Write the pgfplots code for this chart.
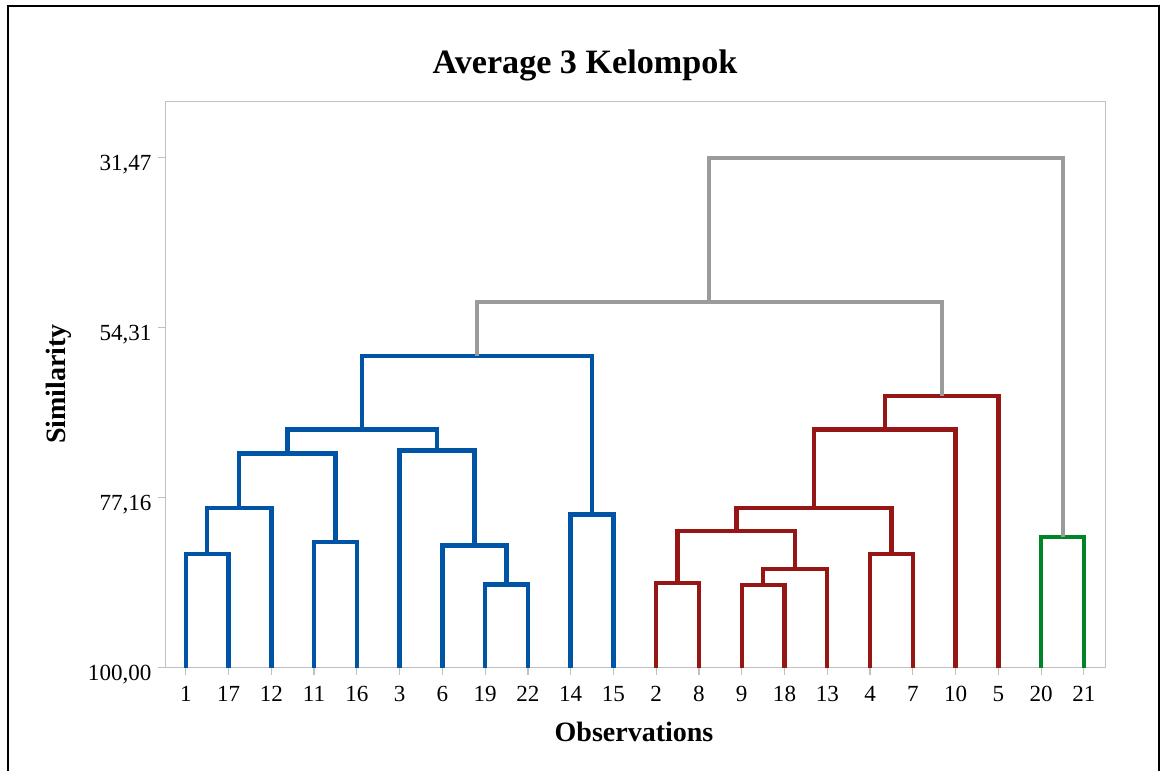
\documentclass[border=0pt]{standalone}
\usepackage{pgfplots}
\pgfplotsset{compat=1.18}
\usepackage{fontspec}
\setmainfont{Liberation Serif}
\definecolor{dblue}{RGB}{0,84,166}
\definecolor{dred}{RGB}{150,22,22}
\definecolor{dgreen}{RGB}{0,133,38}
\definecolor{dgray}{RGB}{155,155,155}
\definecolor{framegray}{RGB}{192,192,192}
\begin{document}
\begin{tikzpicture}
\path[use as bounding box] (0,0) rectangle (870.75pt,-578.25pt);
\draw[black, line width=1.5pt] (6pt,-578.25pt) -- (6pt,-4.5pt) -- (869.25pt,-4.5pt) -- (869.25pt,-578.25pt);
\begin{axis}[
  at={(124.275pt,-76.275pt)}, anchor=north west,
  scale only axis, width=705pt, height=424.5pt,
  xmin=0.53, xmax=22.51, ymin=23.945, ymax=100,
  y dir=reverse,
  axis line style={framegray, line width=0.9pt},
  tick style={framegray, line width=0.9pt},
  tick align=outside, major tick length=5.5pt,
  xtick pos=bottom, ytick pos=left,
  xtick={1,...,22},
  xticklabels={1,17,12,11,16,3,6,19,22,14,15,2,8,9,18,13,4,7,10,5,20,21},
  ytick={31.47,54.3133,77.1567,100},
  yticklabels={{31,47},{54,31},{77,16},{100,00}},
  ticklabel style={font=\fontsize{17.3}{20}\selectfont, text=black},
  xticklabel style={anchor=base, inner sep=0pt, yshift=-20pt},
  yticklabel style={anchor=base east, inner sep=0pt, xshift=-5pt, yshift=-9.75pt},
  every axis plot/.append style={line width=3.3pt, line join=miter, line cap=butt, mark=none},
]
% blue cluster
\addplot[dblue] coordinates {(1,100)(1,84.7)(2,84.7)(2,100)};
\addplot[dblue] coordinates {(1.5,84.7)(1.5,78.5)(3,78.5)(3,100)};
\addplot[dblue] coordinates {(4,100)(4,83.1)(5,83.1)(5,100)};
\addplot[dblue] coordinates {(2.25,78.5)(2.25,71.2)(4.5,71.2)(4.5,83.1)};
\addplot[dblue] coordinates {(8,100)(8,88.8)(9,88.8)(9,100)};
\addplot[dblue] coordinates {(7,100)(7,83.6)(8.5,83.6)(8.5,88.8)};
\addplot[dblue] coordinates {(6,100)(6,70.8)(7.75,70.8)(7.75,83.6)};
\addplot[dblue] coordinates {(3.375,71.2)(3.375,68.0)(6.875,68.0)(6.875,70.8)};
\addplot[dblue] coordinates {(10,100)(10,79.4)(11,79.4)(11,100)};
\addplot[dblue] coordinates {(5.125,68.0)(5.125,58.1)(10.5,58.1)(10.5,79.4)};
% red cluster
\addplot[dred] coordinates {(12,100)(12,88.6)(13,88.6)(13,100)};
\addplot[dred] coordinates {(14,100)(14,88.9)(15,88.9)(15,100)};
\addplot[dred] coordinates {(14.5,88.9)(14.5,86.7)(16,86.7)(16,100)};
\addplot[dred] coordinates {(12.5,88.6)(12.5,81.6)(15.25,81.6)(15.25,86.7)};
\addplot[dred] coordinates {(17,100)(17,84.7)(18,84.7)(18,100)};
\addplot[dred] coordinates {(13.875,81.6)(13.875,78.5)(17.5,78.5)(17.5,84.7)};
\addplot[dred] coordinates {(15.6875,78.5)(15.6875,68.0)(19,68.0)(19,100)};
\addplot[dred] coordinates {(17.34375,68.0)(17.34375,63.45)(20,63.45)(20,100)};
% green cluster
\addplot[dgreen] coordinates {(21,100)(21,82.45)(22,82.45)(22,100)};
% gray links
\addplot[dgray, line width=3pt] coordinates {(7.8125,58.1)(7.8125,50.86)(18.671875,50.86)(18.671875,63.45)};
\addplot[dgray, line width=3pt] coordinates {(13.2421875,50.86)(13.2421875,31.47)(21.5,31.47)(21.5,82.45)};
\end{axis}
\node[anchor=base, font=\bfseries\fontsize{25.6}{30}\selectfont] at (438.75pt,-54.975pt) {Average 3 Kelompok};
\node[anchor=base, font=\bfseries\fontsize{21}{25}\selectfont] at (475.5pt,-556.275pt) {Observations};
\node[anchor=base, rotate=90, font=\bfseries\fontsize{21}{25}\selectfont] at (48.75pt,-288pt) {Similarity};
\end{tikzpicture}
\end{document}
